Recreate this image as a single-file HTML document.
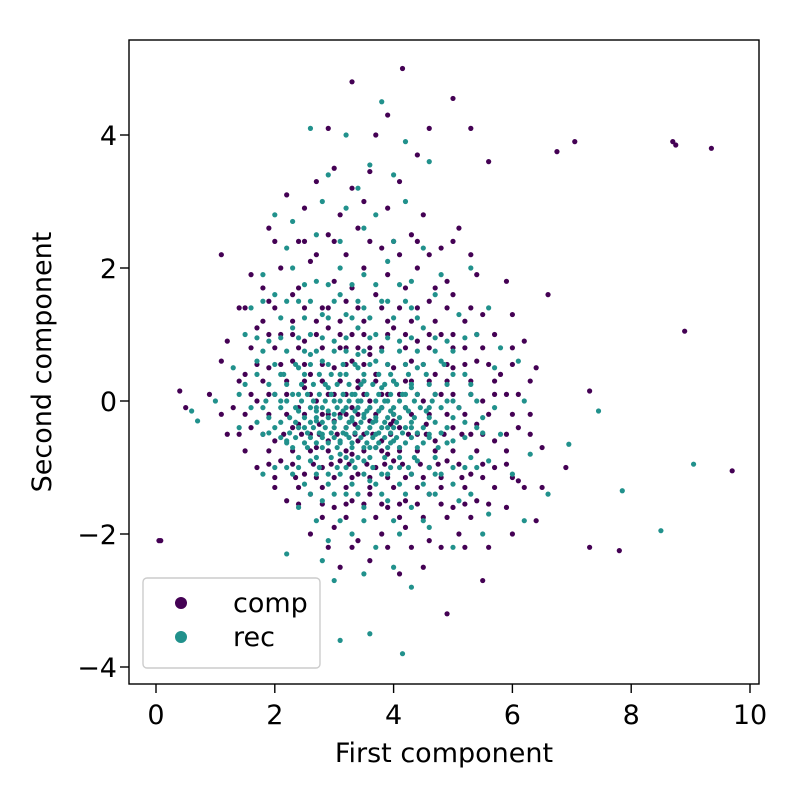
<!DOCTYPE html>
<html><head><meta charset="utf-8"><style>
html,body{margin:0;padding:0;background:#fff}
svg{display:block;font-family:"DejaVu Sans","Liberation Sans",sans-serif}
</style></head><body>
<svg id="chart" width="800" height="800" viewBox="0 0 800 800">
<rect x="0" y="0" width="800" height="800" fill="#fff"/>
<g id="points"></g>
<g id="axes"></g>
</svg>
<script>
const xTicks=[0,2,4,6,8,10];
const yTicks=[4,2,0,-2,-4];
const tickLabels=(v)=> (v<0?'\u2212'+Math.abs(v):String(v));
const seriesNames=["comp","rec"];
const compPts=[[0.05,-2.1],[0.08,-2.1],[9.35,3.8],[8.7,3.9],[8.75,3.85],[9.7,-1.05],[8.9,1.05],[7.8,-2.25],[7.3,-2.2],[7.05,3.9],[6.75,3.75],[4.15,5.0],[3.3,4.8],[0.5,-0.1],[0.4,0.15],[7.3,0.15],[6.9,-1.0],
[3.9,4.3],[2.9,4.1],[4.6,4.1],[5.3,4.1],[3.7,4.0],[5.0,4.55],
[3.0,3.5],[3.6,3.45],[4.1,3.3],[3.3,3.2],[4.4,3.7],[2.7,3.3],[5.6,3.6],
[2.5,2.9],[3.1,2.8],[3.9,2.9],[4.5,2.8],[2.2,3.1],[5.1,2.6],[3.5,3.0],
[1.9,2.6],[2.4,2.4],[2.9,2.5],[3.4,2.6],[3.8,2.3],[4.3,2.5],[4.8,2.3],[5.3,2.2],[1.1,2.2],
[1.6,1.9],[2.1,2.0],[2.6,2.1],[3.0,1.8],[3.5,2.0],[3.9,1.9],[4.4,2.0],[4.9,1.8],[5.4,1.9],[5.9,1.8],
[1.4,1.4],[1.9,1.5],[2.3,1.6],[2.8,1.4],[3.2,1.5],[3.7,1.6],[4.1,1.4],[4.6,1.5],[5.0,1.6],[5.5,1.3],[6.0,1.3],[6.6,1.6],
[1.2,0.9],[1.7,1.1],[2.1,1.0],[2.5,0.9],[2.9,1.1],[3.3,1.0],[3.6,0.8],[4.0,1.1],[4.4,0.9],[4.8,1.0],[5.2,0.8],[5.7,1.0],[6.2,0.9],[6.4,0.5],
[1.1,0.6],[1.5,0.4],[1.9,0.5],[2.3,0.6],[2.6,0.4],[3.0,0.5],[3.3,0.6],[3.7,0.4],[4.0,0.5],[4.3,0.6],[4.7,0.4],[5.0,0.5],[5.4,0.6],[5.8,0.4],[6.3,0.3],
[0.9,0.1],[1.3,-0.1],[1.7,0.0],[2.0,0.1],[2.4,-0.1],[2.7,0.0],[3.0,0.1],[3.3,-0.1],[3.6,0.0],[3.9,0.1],[4.2,-0.1],[4.5,0.0],[4.8,0.1],[5.1,-0.1],[5.5,0.0],[5.9,0.1],[6.3,-0.2],
[1.2,-0.5],[1.6,-0.4],[2.0,-0.6],[2.3,-0.4],[2.6,-0.5],[2.9,-0.6],[3.2,-0.4],[3.5,-0.5],[3.8,-0.6],[4.1,-0.4],[4.4,-0.5],[4.7,-0.6],[5.0,-0.4],[5.3,-0.5],[5.7,-0.6],[6.1,-0.4],[6.5,-0.7],
[1.7,-1.0],[2.1,-0.9],[2.5,-1.1],[2.8,-1.0],[3.1,-0.9],[3.4,-1.1],[3.7,-1.0],[4.0,-0.9],[4.3,-1.1],[4.6,-1.0],[4.9,-0.9],[5.3,-1.1],[5.7,-1.0],[6.1,-1.2],[6.5,-1.3],
[2.2,-1.5],[2.6,-1.4],[3.0,-1.6],[3.3,-1.5],[3.6,-1.4],[3.9,-1.6],[4.2,-1.5],[4.6,-1.4],[5.0,-1.6],[5.4,-1.5],[5.9,-1.6],[6.4,-1.8],
[2.6,-2.0],[3.0,-1.9],[3.4,-2.1],[3.8,-2.0],[4.2,-1.9],[4.6,-2.1],[5.1,-2.0],[5.6,-2.2],[6.0,-2.0],
[3.1,-2.5],[3.6,-2.4],[4.1,-2.6],[4.5,-2.5],[5.5,-2.7],[4.9,-3.2],
[3.2,-0.2],[3.4,0.2],[3.6,-0.3],[3.8,-0.1],[3.0,-0.3],[3.5,0.3],[3.7,-0.7],[3.3,-0.8],[2.9,-0.2],[4.0,-0.3],[3.1,0.3],[3.9,-0.8],[3.4,-0.6],[2.8,0.3],[4.2,0.3],[2.7,-0.7],[3.6,0.7],[3.2,0.8],[4.1,-0.7],[2.5,0.2]];
const compRows=[
[1.2,[1.8,2.3,2.7,3.1,3.5,3.9,4.3,4.7,5.2]],
[0.8,[1.6,2.0,2.4,2.8,3.1,3.4,3.8,4.2,4.6,5.0,5.5,6.0]],
[0.3,[1.4,1.8,2.2,2.5,2.8,3.1,3.4,3.7,4.0,4.3,4.6,4.9,5.3,5.7]],
[-0.2,[1.1,1.5,1.9,2.2,2.5,2.8,3.1,3.4,3.7,4.0,4.3,4.6,4.9,5.2,5.6,6.0]],
[-0.35,[2.4,2.75,3.35,3.95,4.55,5.4]],
[-0.75,[1.5,1.9,2.3,2.6,2.9,3.2,3.5,3.8,4.1,4.4,4.7,5.0,5.4,5.9]],
[-1.3,[2.0,2.4,2.8,3.2,3.6,4.0,4.4,4.8,5.2,5.7,6.2]],
[-1.75,[2.8,3.2,3.7,4.1,4.5,4.9,5.3]],
[1.7,[1.8,2.4,3.3,4.2,4.7]],
[2.2,[2.7,3.2,4.1,4.6]],
[1.0,[1.9,2.3,2.7,3.1,3.5,3.9,4.2,4.6,5.0,5.4]],
[0.55,[1.7,2.1,2.5,2.8,3.2,3.5,3.9,4.2,4.5,4.9,5.2,5.6,6.0]],
[0.1,[1.6,1.9,2.2,2.6,2.9,3.2,3.5,3.8,4.1,4.4,4.7,5.0,5.3,5.7,6.1]],
[-0.5,[1.4,1.8,2.15,2.45,2.75,3.05,3.35,3.65,3.95,4.25,4.55,4.85,5.15,5.5,5.9,6.3]],
[-0.95,[1.9,2.3,2.65,2.95,3.25,3.55,3.85,4.15,4.45,4.75,5.1,5.5,5.9]],
[-1.15,[2.0,2.35,2.7,3.0,3.3,3.6,3.9,4.2,4.5,4.8,5.15,5.5,6.0]],
[1.4,[1.5,2.0,2.5,2.9,3.4,3.8,4.4,4.9,5.3]],
[-1.55,[2.4,2.8,3.2,3.5,3.8,4.1,4.4,4.8,5.2,5.6]],
[2.4,[2.0,2.5,3.0,3.6,4.0,4.4,5.0]],
[-2.2,[2.9,3.3,3.9,4.3,4.8,5.2]]];
const recPts=[[9.05,-0.95],[8.5,-1.95],[7.85,-1.35],[7.45,-0.15],[6.95,-0.65],[0.7,-0.3],[0.6,-0.15],[4.15,-3.8],[3.1,-3.6],[3.6,-3.5],
[3.8,4.5],[3.2,4.0],[4.2,3.9],[2.6,4.1],
[3.6,3.55],[2.9,3.4],[3.4,3.2],[4.0,3.4],[4.6,3.6],
[2.8,3.0],[3.2,2.9],[3.7,2.8],[4.2,3.0],[2.3,2.7],
[2.2,2.3],[2.7,2.5],[3.1,2.4],[3.5,2.6],[4.0,2.4],[4.5,2.3],[2.0,2.8],
[1.8,1.9],[2.3,2.0],[2.7,1.8],[3.1,2.0],[3.5,1.9],[3.9,2.1],[4.3,1.8],[4.8,1.9],[5.3,2.0],
[1.6,1.4],[2.0,1.6],[2.4,1.5],[2.8,1.3],[3.1,1.6],[3.5,1.4],[3.9,1.5],[4.3,1.4],[4.7,1.6],[5.1,1.3],[5.6,1.4],
[1.5,1.0],[1.9,0.9],[2.3,1.1],[2.6,1.0],[3.0,0.9],[3.4,1.1],[3.7,1.0],[4.1,0.9],[4.5,1.1],[4.9,0.9],[5.4,1.0],[5.8,0.8],
[1.3,0.5],[1.7,0.6],[2.1,0.4],[2.4,0.5],[2.8,0.6],[3.1,0.4],[3.4,0.5],[3.7,0.6],[4.0,0.3],[4.4,0.5],[4.8,0.6],[5.2,0.4],[5.7,0.5],[6.1,0.6],
[1.0,0.0],[1.4,0.1],[1.8,-0.1],[2.1,0.0],[2.4,0.1],[2.7,-0.1],[3.0,0.0],[3.3,0.1],[3.6,-0.1],[3.9,0.0],[4.2,0.1],[4.6,-0.1],[4.9,0.0],[5.3,0.1],[5.7,-0.1],[6.2,0.0],
[1.4,-0.4],[1.8,-0.5],[2.2,-0.6],[2.5,-0.4],[2.8,-0.5],[3.1,-0.6],[3.4,-0.4],[3.7,-0.5],[4.0,-0.6],[4.3,-0.4],[4.6,-0.5],[5.0,-0.6],[5.4,-0.4],[5.8,-0.5],[6.3,-0.8],
[1.8,-1.1],[2.2,-1.0],[2.6,-0.9],[2.9,-1.1],[3.2,-1.0],[3.5,-0.9],[3.8,-1.1],[4.1,-1.0],[4.4,-0.9],[4.8,-1.1],[5.2,-1.0],[5.6,-0.9],[6.0,-1.1],[6.6,-1.4],
[2.4,-1.6],[2.8,-1.5],[3.2,-1.4],[3.5,-1.6],[3.9,-1.5],[4.3,-1.6],[4.7,-1.4],[5.1,-1.5],[5.6,-1.7],[6.2,-1.8],
[2.2,-2.3],[2.9,-2.1],[3.3,-2.0],[3.7,-2.2],[4.1,-2.0],[4.6,-1.9],[5.0,-2.2],[5.5,-2.0],
[3.0,-2.7],[3.5,-2.6],[4.0,-2.5],[4.3,-2.8],[2.8,-2.4],
[3.3,-0.3],[3.5,-0.2],[3.2,-0.5],[3.7,-0.3],[3.4,0.0],[3.6,-0.7],[3.0,-0.2],[3.9,-0.4],[3.1,-0.8],[3.5,0.3],[2.9,0.2],[3.8,0.2],[3.3,-0.9],[4.0,-0.2],[2.7,-0.3],[3.6,-1.2],[3.4,0.7],[2.6,0.7],[4.3,0.2],[3.2,1.3]];
const recRows=[
[1.25,[2.1,2.5,2.9,3.3,3.6,4.0,4.4]],
[0.75,[1.8,2.2,2.5,2.7,3.0,3.2,3.5,3.8,4.1,4.4,4.7,5.0]],
[0.25,[1.5,1.9,2.2,2.45,2.65,2.85,3.05,3.25,3.45,3.65,3.85,4.05,4.3,4.6,4.9,5.3]],
[0.1,[2.0,2.3,2.55,2.75,2.95,3.15,3.35,3.55,3.75,3.95,4.15,4.4,4.7]],
[-0.1,[1.6,2.1,2.35,2.6,2.8,3.05,3.2,3.4,3.6,3.8,4.0,4.2,4.45,4.8,5.1]],
[-0.25,[1.9,2.25,2.5,2.7,2.9,3.1,3.3,3.5,3.7,3.9,4.1,4.35,4.6,5.0,5.5]],
[-0.4,[2.0,2.4,2.65,2.85,3.0,3.2,3.4,3.6,3.8,4.0,4.2,4.5,4.9]],
[-0.55,[2.1,2.35,2.6,2.8,3.0,3.25,3.45,3.65,3.85,4.05,4.3,4.6,5.2]],
[-0.7,[2.3,2.55,2.8,3.05,3.3,3.5,3.7,3.9,4.1,4.4,4.75]],
[-0.85,[2.4,2.7,2.95,3.2,3.4,3.6,3.85,4.1,4.35,4.7,5.3]],
[-1.25,[2.5,2.9,3.3,3.7,4.1,4.5,5.0]],
[1.75,[2.5,2.9,3.3,3.7,4.1]],
[-1.8,[2.7,3.1,3.5,4.0,4.5]],
[0.55,[2.0,2.35,2.6,2.9,3.15,3.35,3.6,3.9,4.2,4.5,4.85]],
[0.4,[1.7,2.15,2.5,2.75,2.95,3.2,3.5,3.75,3.95,4.25,4.55,5.0]],
[0.0,[1.85,2.2,2.45,2.65,2.85,3.1,3.25,3.45,3.7,3.85,4.1,4.35,4.65,5.0,5.4]],
[-0.15,[2.4,2.7,2.9,3.15,3.35,3.55,3.75,3.95,4.25,4.55]],
[-0.32,[1.7,2.1,2.35,2.6,2.8,3.0,3.25,3.45,3.65,3.85,4.05,4.3,4.7,5.2]],
[-0.48,[1.9,2.25,2.55,2.75,2.95,3.15,3.35,3.55,3.75,3.95,4.15,4.4,4.8,5.5]],
[-0.63,[2.2,2.5,2.7,2.9,3.1,3.3,3.55,3.75,3.95,4.2,4.5,4.9]],
[-1.0,[2.0,2.4,2.75,3.05,3.35,3.65,3.95,4.25,4.6,5.0,5.4]],
[-1.1,[2.3,2.7,3.1,3.5,3.9,4.3,4.7]],
[-1.4,[2.6,3.0,3.4,3.8,4.2,4.6,5.3]],
[1.5,[1.8,2.2,2.6,3.0,3.4,3.8,4.2]],
[0.95,[1.7,2.1,2.4,2.8,3.2,3.6,3.9,4.3,4.7,5.2]]];

const L=129,R=759,T=40,B=684;
const X=v=>156+v*59.4;
const Y=v=>401-v*66.5;
const NS='http://www.w3.org/2000/svg';
const colors=["#440154","#21918c"];
function mk(tag,attrs,parent){const e=document.createElementNS(NS,tag);for(const k in attrs)e.setAttribute(k,attrs[k]);parent.appendChild(e);return e;}
function expand(pts,rows){const out=pts.slice();rows.forEach(r=>r[1].forEach(x=>out.push([x,r[0]])));return out;}
const pl=document.getElementById('points');
[expand(compPts,compRows),expand(recPts,recRows)].forEach((pts,si)=>{
  pts.forEach(p=>{
    const c=mk('circle',{cx:X(p[0]),cy:Y(p[1]),r:2.6,fill:colors[si]},pl);
    
    
  });
});
const ax=document.getElementById('axes');
const frame=mk('rect',{x:L,y:T,width:R-L,height:B-T,fill:'none',stroke:'#000','stroke-width':1.4},ax);


xTicks.forEach(v=>{
  const t=mk('line',{x1:X(v),x2:X(v),y1:B,y2:B+9,stroke:'#000','stroke-width':1.4},ax);
  
  
  const l=mk('text',{x:X(v),y:B+40,'text-anchor':'middle','font-size':27,fill:'#000'},ax);
  l.textContent=tickLabels(v);
  
  
});
yTicks.forEach(v=>{
  const t=mk('line',{x1:L-9,x2:L,y1:Y(v),y2:Y(v),stroke:'#000','stroke-width':1.4},ax);
  
  
  const l=mk('text',{x:L-12,y:Y(v)+10,'text-anchor':'end','font-size':27,fill:'#000'},ax);
  l.textContent=tickLabels(v);
  
  
});
const xt=mk('text',{x:444,y:762,'text-anchor':'middle','font-size':27,fill:'#000'},ax);
xt.textContent='First component';


const yt=mk('text',{x:0,y:0,'text-anchor':'middle','font-size':27,fill:'#000',transform:'translate(51,362) rotate(-90)'},ax);
yt.textContent='Second component';


const lg=mk('g',{},ax);


const lb=mk('rect',{x:143,y:578,width:177,height:90,rx:4,fill:'#fff','fill-opacity':0.8,stroke:'#ccc','stroke-width':1.4},lg);


seriesNames.forEach((n,i)=>{
  const cy=603+i*34;
  const d=mk('circle',{cx:181,cy:cy,r:6,fill:colors[i]},lg);
  
  
  const t=mk('text',{x:233,y:cy+9,'font-size':27,fill:'#000'},lg);
  t.textContent=n;
  
  
});
</script>
</body></html>
